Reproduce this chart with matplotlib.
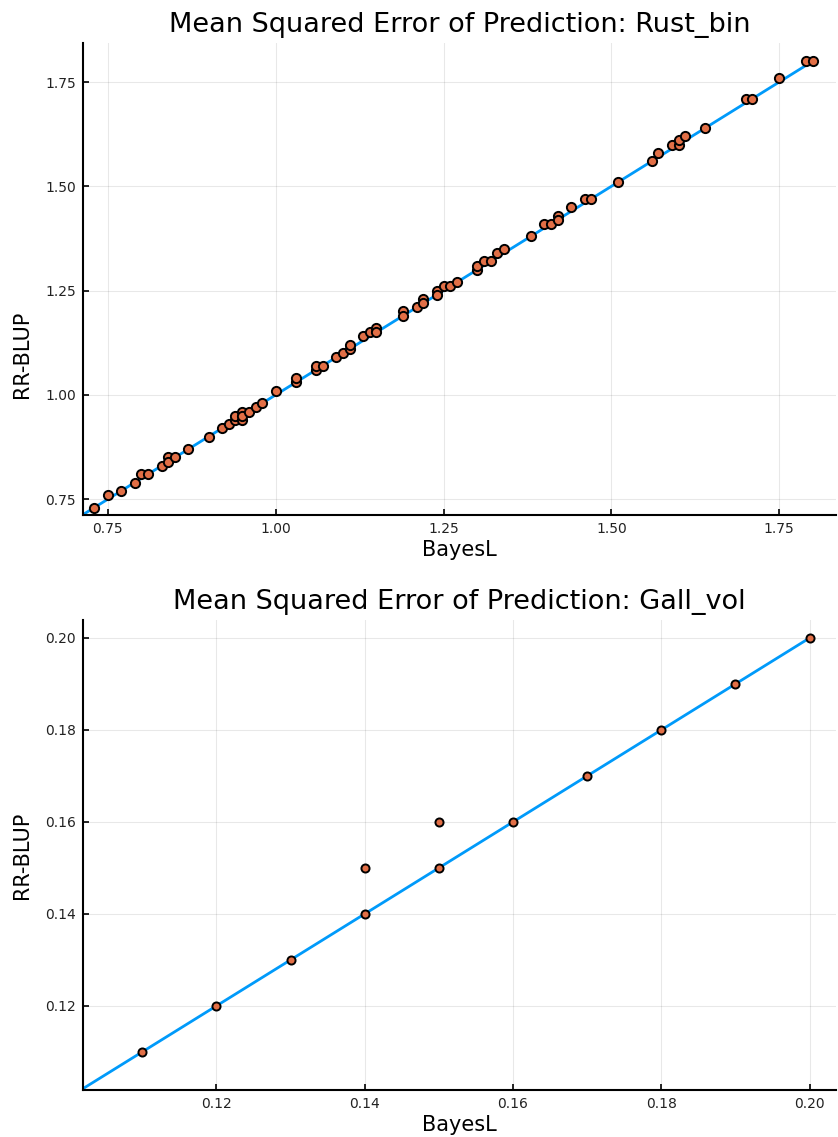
import matplotlib
matplotlib.use("Agg")
import matplotlib.pyplot as plt

# MSEP per fold, BayesL vs RR-BLUP, trait Rust_bin
rust_bayesl = [0.73, 0.75, 0.77, 0.79, 0.80, 0.81, 0.83, 0.84, 0.84, 0.85,
               0.87, 0.90, 0.92, 0.93, 0.94, 0.94, 0.95, 0.95, 0.95, 0.96,
               0.97, 0.98, 1.00, 1.03, 1.03, 1.06, 1.06, 1.07, 1.09, 1.10,
               1.11, 1.11, 1.13, 1.14, 1.15, 1.15, 1.19, 1.19, 1.21, 1.22,
               1.22, 1.24, 1.24, 1.25, 1.26, 1.27, 1.30, 1.30, 1.31, 1.32,
               1.33, 1.34, 1.38, 1.40, 1.41, 1.42, 1.42, 1.44, 1.46, 1.47,
               1.51, 1.56, 1.57, 1.59, 1.60, 1.60, 1.61, 1.64, 1.70, 1.71,
               1.75, 1.79, 1.80]
rust_rrblup = [0.73, 0.76, 0.77, 0.79, 0.81, 0.81, 0.83, 0.85, 0.84, 0.85,
               0.87, 0.90, 0.92, 0.93, 0.94, 0.95, 0.96, 0.94, 0.95, 0.96,
               0.97, 0.98, 1.01, 1.03, 1.04, 1.06, 1.07, 1.07, 1.09, 1.10,
               1.11, 1.12, 1.14, 1.15, 1.16, 1.15, 1.20, 1.19, 1.21, 1.23,
               1.22, 1.25, 1.24, 1.26, 1.26, 1.27, 1.30, 1.31, 1.32, 1.32,
               1.34, 1.35, 1.38, 1.41, 1.41, 1.43, 1.42, 1.45, 1.47, 1.47,
               1.51, 1.56, 1.58, 1.60, 1.60, 1.61, 1.62, 1.64, 1.71, 1.71,
               1.76, 1.80, 1.80]
rust_ticks = [0.75, 1.00, 1.25, 1.50, 1.75]

# same comparison for Gall_vol
gall_bayesl = [0.11, 0.12, 0.13, 0.14, 0.14, 0.15, 0.15, 0.16, 0.17, 0.18, 0.19, 0.20]
gall_rrblup = [0.11, 0.12, 0.13, 0.14, 0.15, 0.15, 0.16, 0.16, 0.17, 0.18, 0.19, 0.20]
gall_ticks = [0.12, 0.14, 0.16, 0.18, 0.20]

LINE_COL = "#009AFA"
PT_COL = "#E26F46"


def panel(ax, x, y, ticks, lims_x, lims_y, trait, msize, ylab_pos):
    ax.set_xlim(*lims_x)
    ax.set_ylim(*lims_y)
    lo = lims_x[0]
    hi = max(max(x), max(y))
    ax.plot([lo, hi], [lo, hi], color=LINE_COL, lw=2, zorder=2)
    ax.scatter(x, y, s=msize, facecolor=PT_COL, edgecolor="black",
               linewidth=1.4, zorder=3)
    ax.set_xticks(ticks)
    ax.set_yticks(ticks)
    ax.set_xticklabels([f"{t:.2f}" for t in ticks])
    ax.set_yticklabels([f"{t:.2f}" for t in ticks])
    ax.grid(True, color="black", alpha=0.09, lw=0.8)
    ax.set_axisbelow(True)
    for s in ("top", "right"):
        ax.spines[s].set_visible(False)
    for s in ("left", "bottom"):
        ax.spines[s].set_linewidth(1.5)
    ax.tick_params(direction="in", length=4, width=1.2, labelsize=10,
                   colors="black", labelcolor="#222222", pad=5)
    ax.set_title("Mean Squared Error of Prediction: " + trait, fontsize=19.5, pad=8)
    ax.set_xlabel("BayesL", fontsize=15, labelpad=3)
    ax.set_ylabel("RR-BLUP", fontsize=15)
    ax.yaxis.set_label_coords(-0.068, ylab_pos)


fig = plt.figure(figsize=(8.38, 11.37), dpi=100)
ax1 = fig.add_axes([0.099, 0.547, 0.899, 0.415])
ax2 = fig.add_axes([0.099, 0.0413, 0.899, 0.4134])

panel(ax1, rust_bayesl, rust_rrblup, rust_ticks, (0.713, 1.835), (0.712, 1.843),
      "Rust_bin", 44, 0.34)
panel(ax2, gall_bayesl, gall_rrblup, gall_ticks, (0.102, 0.2036), (0.1017, 0.2039),
      "Gall_vol", 34, 0.5)

fig.savefig("out.png", dpi=100)
